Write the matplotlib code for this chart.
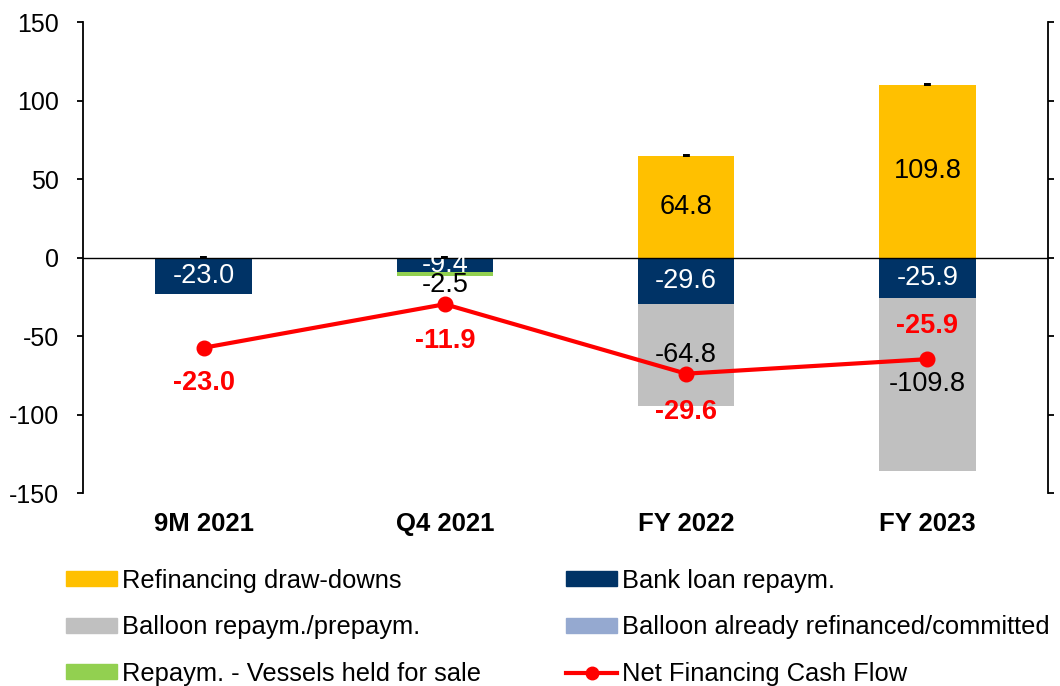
import numpy as np
import matplotlib
matplotlib.use("Agg")
import matplotlib.pyplot as plt
from matplotlib.patches import Patch
from matplotlib.lines import Line2D

# ---------------- data ----------------
categories = ["9M 2021", "Q4 2021", "FY 2022", "FY 2023"]
refinancing = [0.0, 0.0, 64.8, 109.8]
bank_loan = [-23.0, -9.4, -29.6, -25.9]
balloon_repaym = [0.0, 0.0, -64.8, -109.8]
balloon_refinanced = [0.0, 0.0, 0.0, 0.0]
vessels_held = [0.0, -2.5, 0.0, 0.0]
net_cash_flow = [-23.0, -11.9, -29.6, -25.9]

plt.rcParams["font.family"] = ["Liberation Sans", "DejaVu Sans"]
plt.rcParams["axes.unicode_minus"] = False

W, H = 1060, 686
fig = plt.figure(figsize=(W / 100, H / 100), dpi=100)
ax = fig.add_axes([83 / W, 1 - 493 / H, (1048 - 83) / W, (493 - 22) / H])

x = np.arange(len(categories))
bar_w = 0.4

series = [
    ("Refinancing draw-downs", refinancing, "#FFC000", "black", False),
    ("Bank loan repaym.", bank_loan, "#003366", "white", False),
    ("Balloon repaym./prepaym.", balloon_repaym, "#C0C0C0", "black", False),
    ("Balloon already refinanced/committed", balloon_refinanced, "#95A9D0", "black", True),
    ("Repaym. - Vessels held for sale", vessels_held, "#92D050", "black", False),
]

pos_b = np.zeros(len(x))
neg_b = np.zeros(len(x))
label_fs = 19.5
for name, vals, col, lcol, show_zero in series:
    vals = np.asarray(vals, dtype=float)
    bottoms = np.where(vals >= 0, pos_b, neg_b)
    ax.bar(x, vals, bottom=bottoms, width=bar_w, color=col, linewidth=0, zorder=2)
    for i, v in enumerate(vals):
        if v == 0:
            if show_zero:
                ax.text(x[i], bottoms[i], "-", ha="center", va="center",
                        fontsize=label_fs, fontweight="bold", color="black", zorder=5)
            continue
        yc = bottoms[i] + v / 2
        off = -11 if name.startswith("Repaym.") else 0
        ax.annotate(f"{v:.1f}", (x[i], yc), xytext=(0, off), textcoords="offset pixels",
                    ha="center", va="center", fontsize=label_fs, color=lcol, zorder=5)
    pos_b = pos_b + np.where(vals >= 0, vals, 0)
    neg_b = neg_b + np.where(vals < 0, vals, 0)

ax.set_xlim(-0.5, len(x) - 0.5)
ax.set_ylim(-150, 150)
ax.set_yticks(np.arange(-150, 151, 50))
ax.axhline(0, color="black", linewidth=1.0, zorder=3)
for s in ["top", "bottom", "right"]:
    ax.spines[s].set_visible(False)
ax.spines["left"].set_linewidth(1.3)
ax.tick_params(axis="y", direction="out", length=4.5, width=1.3, labelsize=18, pad=13)
ax.set_xticks(x)
ax.set_xticklabels(categories, fontsize=18.5, fontweight="bold")
ax.tick_params(axis="x", length=0, pad=14)

# secondary axis for the net cash flow line
ax2 = ax.twinx()
ax2.set_ylim(-60, 60)
ax2.set_yticks(np.arange(-60, 61, 20))
ax2.set_yticklabels([])
for s in ["top", "bottom", "left"]:
    ax2.spines[s].set_visible(False)
ax2.spines["right"].set_linewidth(1.3)
ax2.tick_params(axis="y", direction="out", length=4.5, width=1.3)
ax2.plot(x, net_cash_flow, color="#FF0000", linewidth=3, marker="o", markersize=10.5, zorder=6)
net_offsets = [-35, -37, -38, 33]
for i, v in enumerate(net_cash_flow):
    ax2.annotate(f"{v:.1f}", (x[i], v), xytext=(0, net_offsets[i]), textcoords="offset pixels",
                 ha="center", va="center", fontsize=label_fs, fontweight="bold", color="#FF0000")

# legends
left_handles = [Patch(color=series[0][2]), Patch(color=series[2][2]), Patch(color=series[4][2])]
left_labels = [series[0][0], series[2][0], series[4][0]]
right_handles = [Patch(color=series[1][2]), Patch(color=series[3][2]),
                 Line2D([0], [0], color="#FF0000", linewidth=3, marker="o", markersize=9)]
right_labels = [series[1][0], series[3][0], "Net Financing Cash Flow"]

leg_kw = dict(loc="upper left", frameon=False, fontsize=18.4, handlelength=2.0,
              handleheight=0.52, handletextpad=0.2, labelspacing=0.88,
              borderpad=0, borderaxespad=0)
fig.legend(left_handles, left_labels, bbox_to_anchor=(66 / W, 1 - 569 / H), **leg_kw)
fig.legend(right_handles, right_labels, bbox_to_anchor=(566 / W, 1 - 569 / H), **leg_kw)

fig.savefig("out.png", dpi=100)
